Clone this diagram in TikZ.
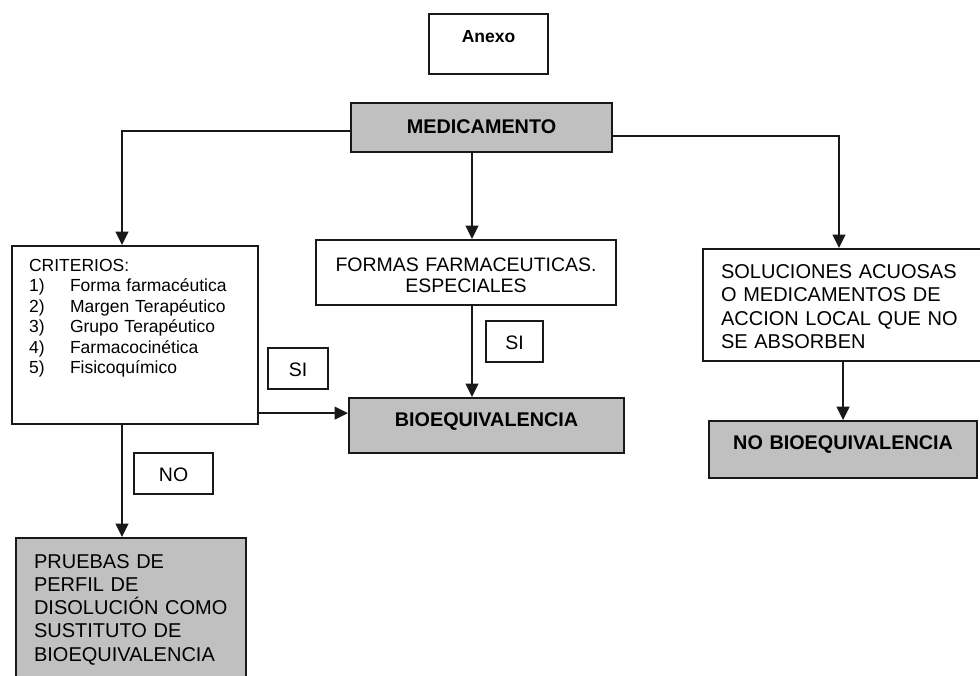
\documentclass[tikz,border=0pt]{standalone}
\usepackage{fontspec}
\setmainfont{Liberation Sans}
\usetikzlibrary{arrows.meta, positioning}
\definecolor{cajagris}{HTML}{C0C0C0}

\begin{document}
\begin{tikzpicture}[x=1pt, y=-1pt]
            \tikzstyle{caja} = [rectangle, draw=black!90, line width=2.1pt, anchor=north west,
                                inner ysep=0pt, inner xsep=2pt, align=center,
                                font=\fontsize{19.5}{23.5}\selectfont]
            \tikzstyle{gris} = [caja, fill=cajagris, font=\bfseries\fontsize{19.8}{23.5}\selectfont]
            \tikzstyle{flecha} = [-{Triangle[length=13.5pt, width=13pt]}, line width=1.5pt, black!90]

            \useasboundingbox (0,0) rectangle (980,675);

            \node (anexo) [caja, text width=115pt, text height=28pt, text depth=32pt,
                           font=\bfseries\fontsize{17.5}{20}\selectfont] at (428,13) {Anexo};
            \node (med)   [gris, text width=257pt, text height=30pt, text depth=19pt] at (350,102) {MEDICAMENTO};
            \node (crit)  [caja, text width=212pt, inner xsep=17pt, align=left, text height=25pt, text depth=153pt,
                           font=\fontsize{17.5}{20.5}\selectfont] at (11,245)
                          {CRITERIOS:\\
                           \makebox[41pt][l]{1)}Forma farmacéutica\\
                           \makebox[41pt][l]{2)}Margen Terapéutico\\
                           \makebox[41pt][l]{3)}Grupo Terapéutico\\
                           \makebox[41pt][l]{4)}Farmacocinética\\
                           \makebox[41pt][l]{5)}Fisicoquímico};
            \node (formas) [caja, text width=296pt, text height=31pt, text depth=34pt,
                            font=\fontsize{19.5}{21.5}\selectfont] at (315,239)
                           {FORMAS FARMACEUTICAS.\\ESPECIALES};
            \node (sol)   [caja, text width=247pt, inner xsep=18pt, align=left, text height=29pt, text depth=83pt,
                           font=\fontsize{20}{23.5}\selectfont]
                          at (702,248) {SOLUCIONES ACUOSAS\\O MEDICAMENTOS DE\\ACCION LOCAL QUE NO\\SE ABSORBEN};
            \node (bio)   [gris, text width=271pt, text height=28pt, text depth=27pt] at (348,397) {BIOEQUIVALENCIA};
            \node (nobio) [gris, text width=264pt, text height=28pt, text depth=29pt] at (708,420) {NO BIOEQUIVALENCIA};
            \node (pruebas) [caja, fill=cajagris, text width=194pt, inner xsep=18pt, align=left,
                             text height=30pt, text depth=130pt, font=\fontsize{20}{23.3}\selectfont] at (15,537)
                            {PRUEBAS DE\\PERFIL DE\\DISOLUCIÓN COMO\\SUSTITUTO DE\\BIOEQUIVALENCIA};

            \node (si1) [caja, text width=56pt, text height=28pt, text depth=13pt] at (267,347) {SI};
            \node (si2) [caja, text width=53pt, text height=28pt, text depth=13pt] at (485,320) {SI};
            \node (no)  [caja, text width=75pt, text height=28pt, text depth=13pt] at (133,452) {NO};

            \coordinate (ejeizq) at (122,0);
            \coordinate (eje)    at (472,0);
            \coordinate (ejeder) at (839,0);
            \coordinate (csi)    at ([yshift=12pt]crit.south east);

            \draw [flecha] ([yshift=-3.5pt]med.west) -| (crit.north -| ejeizq);
            \draw [flecha] ([yshift=-8.5pt]med.east) -| (sol.north -| ejeder);
            \draw [flecha] (med.south -| eje) -- (formas.north -| eje);
            \draw [flecha] (formas.south -| eje) -- (bio.north -| eje);
            \draw [flecha] (csi) -- (csi -| bio.west);
            \draw [flecha] (crit.south -| ejeizq) -- (pruebas.north -| ejeizq);
            \draw [flecha] (sol.south -| nobio.north) -- (nobio.north);
        \end{tikzpicture}
\end{document}
